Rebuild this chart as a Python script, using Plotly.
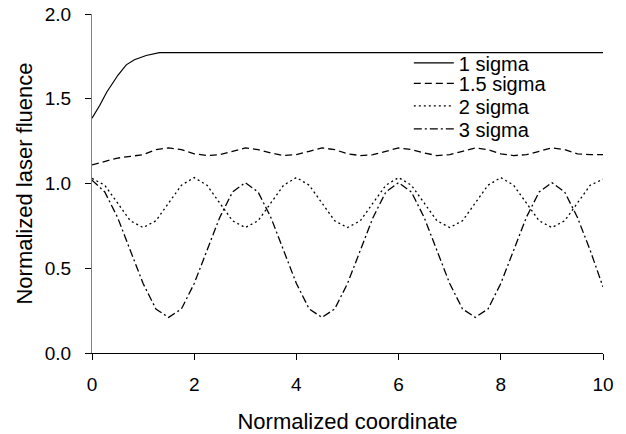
import plotly.graph_objects as go

x_step = [i * 0.25 for i in range(41)]

sigma1_x = [0, 0.15, 0.29, 0.51, 0.67, 0.83, 1.06, 1.32, 10]
sigma1_y = [1.385, 1.46, 1.54, 1.64, 1.70, 1.73, 1.755, 1.772, 1.772]

sigma15_y = [1.11, 1.13, 1.15, 1.16, 1.17, 1.20, 1.21, 1.20, 1.175, 1.165,
             1.17, 1.19, 1.21, 1.20, 1.18, 1.165, 1.17, 1.19, 1.21, 1.20,
             1.175, 1.165, 1.17, 1.19, 1.21, 1.20, 1.18, 1.165, 1.17, 1.19,
             1.21, 1.20, 1.175, 1.165, 1.17, 1.19, 1.21, 1.20, 1.175, 1.17, 1.17]

sigma2_y = [1.03, 0.99, 0.885, 0.78, 0.74, 0.78, 0.885, 0.99, 1.035, 0.99,
            0.885, 0.78, 0.74, 0.78, 0.885, 0.99, 1.035, 0.99, 0.885, 0.78,
            0.74, 0.78, 0.885, 0.99, 1.035, 0.99, 0.885, 0.78, 0.74, 0.78,
            0.885, 0.99, 1.035, 0.99, 0.885, 0.78, 0.74, 0.78, 0.885, 0.99, 1.025]

sigma3_y = [1.02, 0.95, 0.80, 0.605, 0.41, 0.26, 0.21, 0.26, 0.41, 0.605,
            0.80, 0.95, 1.005, 0.95, 0.80, 0.605, 0.41, 0.26, 0.21, 0.26,
            0.41, 0.605, 0.80, 0.95, 1.005, 0.95, 0.80, 0.605, 0.41, 0.26,
            0.21, 0.26, 0.41, 0.605, 0.80, 0.95, 1.005, 0.95, 0.80, 0.605, 0.39]

names = ["1 sigma", "1.5 sigma", "2 sigma", "3 sigma"]
font = "Arial, Liberation Sans, sans-serif"

fig = go.Figure()
fig.add_trace(go.Scatter(x=sigma1_x, y=sigma1_y, mode="lines", name=names[0], legend="legend",
                         showlegend=True, line=dict(color="black", width=1.2, dash="solid")))
fig.add_trace(go.Scatter(x=x_step, y=sigma15_y, mode="lines", name=names[1], legend="legend2",
                         showlegend=True, line=dict(color="black", width=1.3, dash="7px,4px")))
fig.add_trace(go.Scatter(x=x_step, y=sigma2_y, mode="lines", name=names[2], legend="legend3",
                         showlegend=True, line=dict(color="black", width=1.3, dash="2px,3px")))
fig.add_trace(go.Scatter(x=x_step, y=sigma3_y, mode="lines", name=names[3], legend="legend4",
                         showlegend=True, line=dict(color="black", width=1.3, dash="8px,3px,2px,3px")))

leg_y_px = [63, 83.5, 106, 129]
def leg(py):
    return dict(x=0.62, y=(353.3 - py) / 339.3, xanchor="left", yanchor="middle",
                bgcolor="rgba(0,0,0,0)", font=dict(size=20, family=font, color="black"),
                itemwidth=40)

fig.update_layout(
    width=626, height=434,
    showlegend=True,
    margin=dict(l=92, r=23, t=14, b=81),
    paper_bgcolor="white", plot_bgcolor="white",
    font=dict(family=font, size=19, color="black"),
    legend=leg(leg_y_px[0]), legend2=leg(leg_y_px[1]),
    legend3=leg(leg_y_px[2]), legend4=leg(leg_y_px[3]),
    xaxis=dict(range=[0, 10], tickvals=[0, 2, 4, 6, 8, 10], showgrid=False,
               zeroline=False, showline=True, linecolor="black", linewidth=1,
               ticks="outside", ticklen=6, tickcolor="black", ticklabelstandoff=8,
               automargin=False,
               title=dict(text="Normalized coordinate", standoff=19,
                          font=dict(size=22, family=font, color="black"))),
    yaxis=dict(range=[0, 2.0], tickvals=[0, 0.5, 1.0, 1.5, 2.0], tickformat=".1f",
               showgrid=False, zeroline=False, showline=True, linecolor="#808080",
               linewidth=1, ticks="outside", ticklen=6, tickcolor="black",
               ticklabelstandoff=10, automargin=False,
               title=dict(text="Normalized laser fluence", standoff=6,
                          font=dict(size=22, family=font, color="black"))),
)

fig.write_html("out.html", config={"displayModeBar": False},
               post_script="document.body.style.margin='0';")
